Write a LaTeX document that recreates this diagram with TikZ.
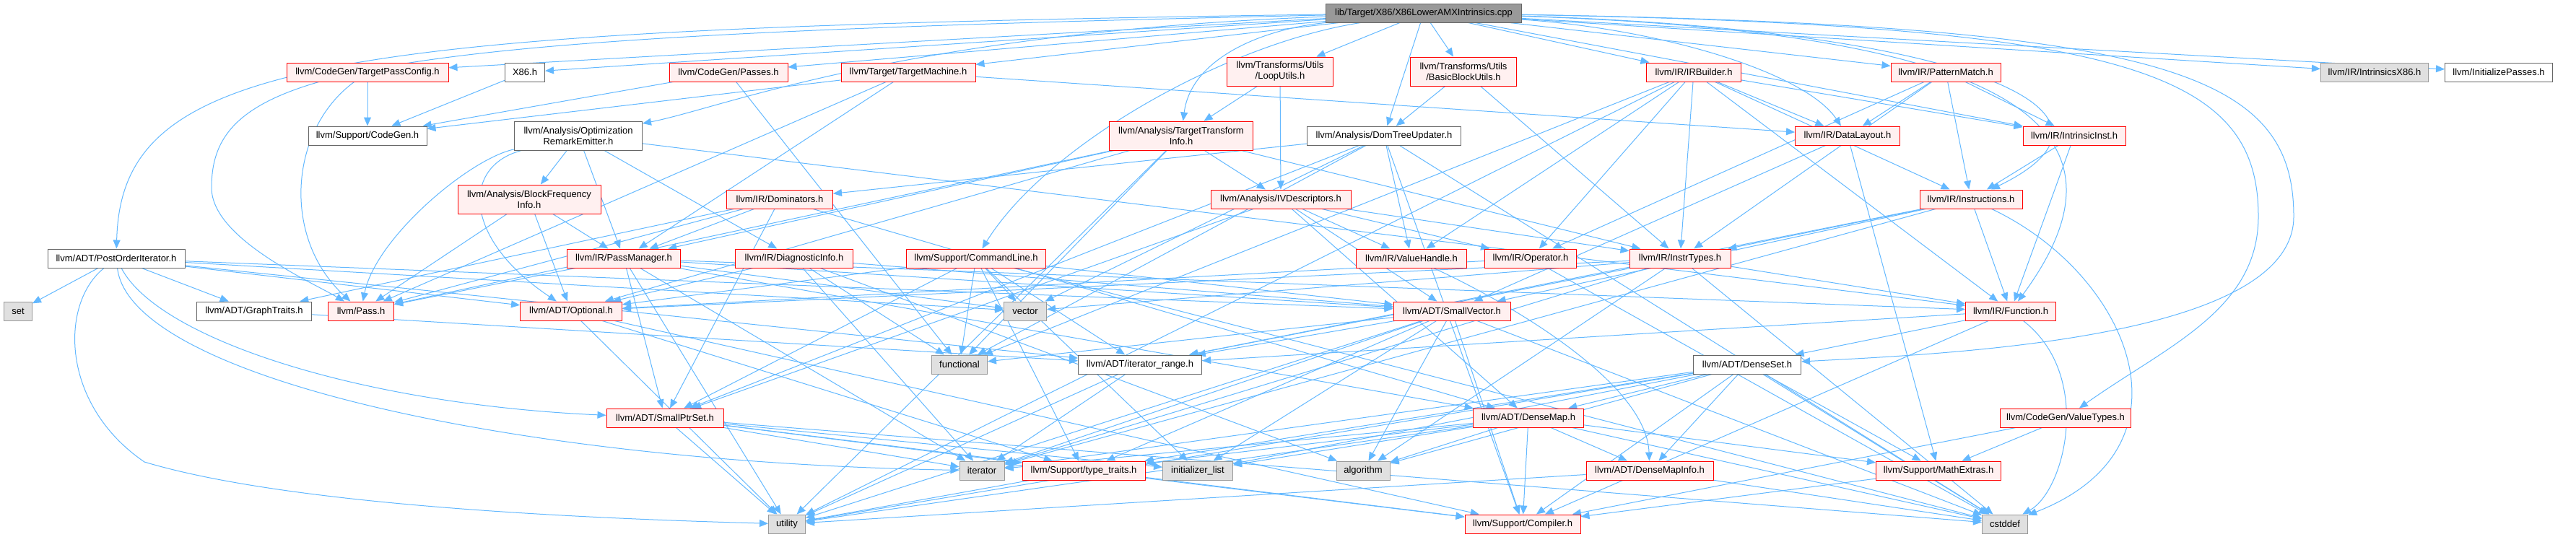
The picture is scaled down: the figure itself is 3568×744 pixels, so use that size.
\documentclass[tikz,border=0pt]{standalone}
\usepackage{fontspec}
\setmainfont{Liberation Sans}
\usetikzlibrary{arrows.meta}
\definecolor{edgec}{HTML}{63B8FF}
\definecolor{redfill}{HTML}{FFF0F0}
\definecolor{grayfill}{HTML}{E0E0E0}
\definecolor{graydraw}{HTML}{999999}
\definecolor{whitedraw}{HTML}{666666}
\definecolor{rootfill}{HTML}{999999}
\pgfdeclarelayer{bg}
\pgfsetlayers{bg,main}
\begin{document}
\begin{tikzpicture}[x=1pt,y=-1pt,
  box/.style={rectangle, minimum height=26pt, inner xsep=2pt, inner ysep=3pt, line width=1pt, font=\fontsize{13}{15}\selectfont, align=center},
  rn/.style={box, draw=red, fill=redfill},
  wn/.style={box, draw=whitedraw, fill=white},
  gn/.style={box, draw=graydraw, fill=grayfill},
  rootn/.style={box, draw=whitedraw, fill=rootfill},
  two/.style={minimum height=40pt},
  ed/.style={draw=edgec, line width=1pt, -{Triangle[length=12pt,width=10pt]}}
]
\useasboundingbox (0,0) rectangle (3568,744);
% row 0
\node[rootn, minimum width=271pt] (root) at (1972,18) {lib/Target/X86/X86LowerAMXIntrinsics.cpp};
% row 1
\node[rn, minimum width=224pt] (tpc) at (509,100) {llvm/CodeGen/TargetPassConfig.h};
\node[wn, minimum width=55pt] (x86) at (727,100) {X86.h};
\node[rn, minimum width=164pt] (passes) at (1009,100) {llvm/CodeGen/Passes.h};
\node[rn, minimum width=186pt] (tm) at (1258,100) {llvm/Target/TargetMachine.h};
\node[rn, two, minimum width=147pt] (loop) at (1773,99) {llvm/Transforms/Utils\\/LoopUtils.h};
\node[rn, two, minimum width=147pt] (bbu) at (2027,99) {llvm/Transforms/Utils\\/BasicBlockUtils.h};
\node[rn, minimum width=131pt] (irb) at (2346,100) {llvm/IR/IRBuilder.h};
\node[rn, minimum width=152pt] (pm) at (2695,100) {llvm/IR/PatternMatch.h};
\node[gn, minimum width=149pt] (ix86) at (3289,100) {llvm/IR/IntrinsicsX86.h};
\node[wn, minimum width=149pt] (initp) at (3461,100) {llvm/InitializePasses.h};
% row 2
\node[wn, minimum width=164pt] (cg) at (509,188) {llvm/Support/CodeGen.h};
\node[wn, two, minimum width=177pt] (ore) at (801,188) {llvm/Analysis/Optimization\\RemarkEmitter.h};
\node[rn, two, minimum width=199pt] (tti) at (1636,188) {llvm/Analysis/TargetTransform\\Info.h};
\node[wn, minimum width=213pt] (dtu) at (1917,188) {llvm/Analysis/DomTreeUpdater.h};
\node[rn, minimum width=145pt] (dl) at (2559,188) {llvm/IR/DataLayout.h};
\node[rn, minimum width=142pt] (ii) at (2873,188) {llvm/IR/IntrinsicInst.h};
% row 3
\node[rn, two, minimum width=198pt] (bfi) at (733,276) {llvm/Analysis/BlockFrequency\\Info.h};
\node[rn, minimum width=147pt] (dom) at (1080,276) {llvm/IR/Dominators.h};
\node[rn, minimum width=194pt] (ivd) at (1774,276) {llvm/Analysis/IVDescriptors.h};
\node[rn, minimum width=142pt] (instr) at (2730,276) {llvm/IR/Instructions.h};
% row 4
\node[wn, minimum width=190pt] (po) at (161,358) {llvm/ADT/PostOrderIterator.h};
\node[rn, minimum width=157pt] (pmgr) at (864,358) {llvm/IR/PassManager.h};
\node[rn, minimum width=163pt] (diag) at (1100,358) {llvm/IR/DiagnosticInfo.h};
\node[rn, minimum width=193pt] (cl) at (1352,358) {llvm/Support/CommandLine.h};
\node[rn, minimum width=153pt] (vh) at (1955,358) {llvm/IR/ValueHandle.h};
\node[rn, minimum width=127pt] (op) at (2120,358) {llvm/IR/Operator.h};
\node[rn, minimum width=140pt] (it) at (2327,358) {llvm/IR/InstrTypes.h};
% row 5
\node[gn, minimum width=39pt] (set) at (25,431) {set};
\node[wn, minimum width=159pt] (gt) at (352,431) {llvm/ADT/GraphTraits.h};
\node[rn, minimum width=91pt] (pass) at (500,431) {llvm/Pass.h};
\node[rn, minimum width=141pt] (opt) at (791,431) {llvm/ADT/Optional.h};
\node[gn, minimum width=59pt] (vec) at (1420,431) {vector};
\node[rn, minimum width=162pt] (sv) at (2011,431) {llvm/ADT/SmallVector.h};
\node[rn, minimum width=125pt] (fn) at (2785,431) {llvm/IR/Function.h};
% row 6
\node[gn, minimum width=77pt] (func) at (1329,505) {functional};
\node[wn, minimum width=171pt] (ir) at (1579,505) {llvm/ADT/iterator\_range.h};
\node[wn, minimum width=149pt] (ds) at (2420,505) {llvm/ADT/DenseSet.h};
% row 7
\node[rn, minimum width=162pt] (sps) at (921,579) {llvm/ADT/SmallPtrSet.h};
\node[rn, minimum width=153pt] (dm) at (2117,579) {llvm/ADT/DenseMap.h};
\node[rn, minimum width=181pt] (vt) at (2861,579) {llvm/CodeGen/ValueTypes.h};
% row 8
\node[gn, minimum width=62pt] (iter) at (1360,652) {iterator};
\node[rn, minimum width=170pt] (tt) at (1501,652) {llvm/Support/type\_traits.h};
\node[gn, minimum width=97pt] (il) at (1659,652) {initializer\_list};
\node[gn, minimum width=74pt] (alg) at (1888,652) {algorithm};
\node[rn, minimum width=176pt] (dmi) at (2285,652) {llvm/ADT/DenseMapInfo.h};
\node[rn, minimum width=173pt] (me) at (2685,652) {llvm/Support/MathExtras.h};
% row 9
\node[gn, minimum width=51pt] (util) at (1090,726) {utility};
\node[rn, minimum width=160pt] (comp) at (2109,726) {llvm/Support/Compiler.h};
\node[gn, minimum width=63pt] (cstd) at (2777,726) {cstddef};

\begin{pgfonlayer}{bg}
% root
\draw[ed] (root) -- (tpc);
\draw[ed] (root) -- (x86);
\draw[ed] (root) -- (passes);
\draw[ed] (root) -- (tm);
\draw[ed] (root) -- (loop);
\draw[ed] (root) -- (bbu);
\draw[ed] (root) -- (irb);
\draw[ed] (root) -- (pm);
\draw[ed] (root) -- (ix86);
\draw[ed] (root) -- (initp);
\draw[ed] (root) .. controls (450,40) and (168,80) .. (po);
\draw[ed] (root) .. controls (500,50) and (293,90) .. (293,260) .. controls (293,330) and (430,390) .. (pass);
\draw[ed] (root) .. controls (1250,45) and (1000,150) .. (ore);
\draw[ed] (root) .. controls (1750,40) and (1650,80) .. (tti);
\draw[ed] (root) -- (dtu);
\draw[ed] (root) .. controls (2300,40) and (2500,100) .. (dl);
\draw[ed] (root) -- (ii);
\draw[ed] (root) .. controls (2700,40) and (2990,150) .. (instr);
\draw[ed] (root) .. controls (2800,45) and (2970,180) .. (fn);
\draw[ed] (root) .. controls (1700,60) and (1450,200) .. (cl);
\draw[ed] (root) .. controls (2950,35) and (3128,100) .. (3128,300) .. controls (3128,430) and (3000,480) .. (vt);
\draw[ed] (root) .. controls (3000,35) and (3177,100) .. (3177,300) .. controls (3177,470) and (2700,490) .. (ds);
% row 1
\draw[ed] (tpc) -- (cg);
\draw[ed] (tpc) .. controls (400,180) and (390,330) .. (pass);
\draw[ed] (x86) -- (cg);
\draw[ed] (passes) -- (cg);
\draw[ed] (passes) -- (func);
\draw[ed] (tm) -- (cg);
\draw[ed] (tm) -- (pmgr);
\draw[ed] (tm) -- (pass);
\draw[ed] (tm) -- (dl);
\draw[ed] (loop) -- (tti);
\draw[ed] (loop) -- (ivd);
\draw[ed] (bbu) -- (dtu);
\draw[ed] (bbu) -- (it);
\draw[ed] (irb) -- (vh);
\draw[ed] (irb) -- (func);
\draw[ed] (irb) -- (it);
\draw[ed] (irb) -- (op);
\draw[ed] (irb) -- (dl);
\draw[ed] (irb) -- (instr);
\draw[ed] (irb) -- (fn);
\draw[ed] (irb) -- (ii);
\draw[ed] (irb) -- (util);
\draw[ed] (pm) -- (dl);
\draw[ed] (pm) -- (it);
\draw[ed] (pm) -- (instr);
\draw[ed] (pm) -- (ii);
\draw[ed] (pm) -- (op);
% row 2
\draw[ed] (ore) -- (bfi);
\draw[ed] (ore) -- (pmgr);
\draw[ed] (ore) .. controls (650,220) and (520,330) .. (pass);
\draw[ed] (ore) .. controls (640,230) and (640,330) .. (opt);
\draw[ed] (ore) -- (diag);
\draw[ed] (ore) -- (fn);
\draw[ed] (dtu) -- (sps);
\draw[ed] (dtu) -- (dom);
\draw[ed] (dtu) -- (vh);
\draw[ed] (dtu) -- (comp);
\draw[ed] (dtu) -- (cstd);
\draw[ed] (dtu) -- (func);
\draw[ed] (dtu) -- (vec);
\draw[ed] (tti) -- (ivd);
\draw[ed] (tti) -- (it);
\draw[ed] (tti) -- (pmgr);
\draw[ed] (tti) -- (pass);
\draw[ed] (tti) -- (func);
\draw[ed] (tti) -- (util);
\draw[ed] (tti) -- (opt);
\draw[ed] (dl) -- (sv);
\draw[ed] (dl) -- (me);
\draw[ed] (ii) -- (instr);
\draw[ed] (ii) -- (fn);
% row 3
\draw[ed] (bfi) -- (pass);
\draw[ed] (bfi) -- (opt);
\draw[ed] (bfi) -- (pmgr);
\draw[ed] (dom) -- (pmgr);
\draw[ed] (dom) -- (gt);
\draw[ed] (dom) -- (pass);
\draw[ed] (dom) -- (sps);
\draw[ed] (dom) -- (dm);
\draw[ed] (ivd) -- (sps);
\draw[ed] (ivd) -- (sv);
\draw[ed] (ivd) -- (vh);
\draw[ed] (ivd) -- (op);
\draw[ed] (ivd) -- (it);
\draw[ed] (ivd) -- (dm);
\draw[ed] (instr) -- (it);
\draw[ed] (instr) -- (sv);
\draw[ed] (instr) -- (ir);
\draw[ed] (instr) .. controls (2950,380) and (3050,620) .. (cstd);
\draw[ed] (instr) -- (iter);
\draw[ed] (instr) -- (fn);
% row 4
\draw[ed] (po) -- (gt);
\draw[ed] (po) -- (opt);
\draw[ed] (po) .. controls (220,470) and (500,560) .. (sps);
\draw[ed] (po) -- (sv);
\draw[ed] (po) -- (ir);
\draw[ed] (po) .. controls (180,520) and (700,640) .. (iter);
\draw[ed] (po) -- (set);
\draw[ed] (po) .. controls (83,420) and (83,560) .. (200,640) .. controls (400,700) and (800,718) .. (util);
\draw[ed] (po) -- (vec);
\draw[ed] (pmgr) -- (dm);
\draw[ed] (pmgr) -- (sps);
\draw[ed] (pmgr) -- (sv);
\draw[ed] (pmgr) -- (fn);
\draw[ed] (pmgr) -- (pass);
\draw[ed] (pmgr) -- (iter);
\draw[ed] (pmgr) -- (util);
\draw[ed] (pmgr) -- (vec);
\draw[ed] (diag) -- (opt);
\draw[ed] (diag) -- (sv);
\draw[ed] (diag) -- (alg);
\draw[ed] (diag) -- (func);
\draw[ed] (diag) -- (iter);
\draw[ed] (cl) -- (opt);
\draw[ed] (cl) -- (sps);
\draw[ed] (cl) -- (sv);
\draw[ed] (cl) -- (ir);
\draw[ed] (cl) -- (cstd);
\draw[ed] (cl) -- (func);
\draw[ed] (cl) -- (il);
\draw[ed] (cl) -- (tt);
\draw[ed] (cl) -- (vec);
\draw[ed] (vh) .. controls (2050,400) and (2280,520) .. (dmi);
\draw[ed] (op) -- (opt);
\draw[ed] (op) -- (cstd);
\draw[ed] (it) -- (opt);
\draw[ed] (it) -- (ir);
\draw[ed] (it) -- (fn);
\draw[ed] (it) -- (alg);
\draw[ed] (it) -- (cstd);
\draw[ed] (it) -- (iter);
\draw[ed] (it) -- (vec);
% row 5
\draw[ed] (gt) -- (ir);
\draw[ed] (opt) -- (comp);
\draw[ed] (opt) -- (tt);
\draw[ed] (opt) -- (util);
\draw[ed] (sv) -- (ir);
\draw[ed] (sv) -- (comp);
\draw[ed] (sv) -- (tt);
\draw[ed] (sv) -- (alg);
\draw[ed] (sv) -- (cstd);
\draw[ed] (sv) -- (func);
\draw[ed] (sv) -- (il);
\draw[ed] (sv) -- (iter);
\draw[ed] (sv) -- (util);
\draw[ed] (fn) -- (ds);
\draw[ed] (fn) -- (ir);
\draw[ed] (fn) -- (comp);
\draw[ed] (fn) .. controls (2900,520) and (2860,680) .. (cstd);
% row 6
\draw[ed] (ir) -- (iter);
\draw[ed] (ir) -- (util);
\draw[ed] (ds) -- (dm);
\draw[ed] (ds) -- (dmi);
\draw[ed] (ds) -- (me);
\draw[ed] (ds) -- (tt);
\draw[ed] (ds) -- (comp);
\draw[ed] (ds) -- (alg);
\draw[ed] (ds) -- (cstd);
\draw[ed] (ds) -- (il);
\draw[ed] (ds) -- (iter);
\draw[ed] (ds) -- (util);
% row 7
\draw[ed] (sps) -- (comp);
\draw[ed] (sps) -- (tt);
\draw[ed] (sps) -- (cstd);
\draw[ed] (sps) -- (il);
\draw[ed] (sps) -- (iter);
\draw[ed] (sps) -- (util);
\draw[ed] (dm) -- (dmi);
\draw[ed] (dm) -- (comp);
\draw[ed] (dm) -- (me);
\draw[ed] (dm) -- (tt);
\draw[ed] (dm) -- (alg);
\draw[ed] (dm) -- (cstd);
\draw[ed] (dm) -- (il);
\draw[ed] (dm) -- (iter);
\draw[ed] (dm) -- (util);
\draw[ed] (vt) -- (comp);
\draw[ed] (vt) -- (me);
% row 8
\draw[ed] (dmi) -- (cstd);
\draw[ed] (dmi) -- (util);
\draw[ed] (me) -- (comp);
\draw[ed] (tt) -- (comp);
\draw[ed] (tt) -- (util);
\end{pgfonlayer}
\end{tikzpicture}
\end{document}
